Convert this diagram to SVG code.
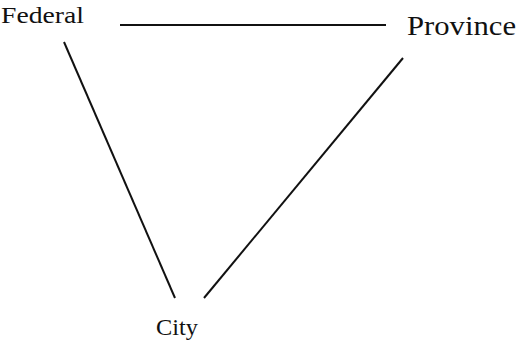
<svg xmlns="http://www.w3.org/2000/svg" width="517" height="343" viewBox="0 0 517 343">
<style>
.lbl{font-family:"Liberation Serif","DejaVu Serif",serif;fill:#111}
.e{stroke:#111;stroke-width:2;fill:none;stroke-linecap:butt}
</style>
<rect width="517" height="343" fill="#fff"/>
<g id="edges">
<line class="e" x1="120" y1="25" x2="386" y2="25"/>
<line class="e" x1="64" y1="42" x2="175" y2="298"/>
<line class="e" x1="403" y1="58" x2="204" y2="298"/>
</g>
<g id="federal"><text class="lbl" x="1" y="23" font-size="23" textLength="83" lengthAdjust="spacingAndGlyphs">Federal</text></g>
<g id="province"><text class="lbl" x="407" y="35" font-size="27" textLength="109" lengthAdjust="spacingAndGlyphs">Province</text></g>
<g id="city"><text class="lbl" x="156" y="335" font-size="23" textLength="42" lengthAdjust="spacingAndGlyphs">City</text></g>
</svg>
